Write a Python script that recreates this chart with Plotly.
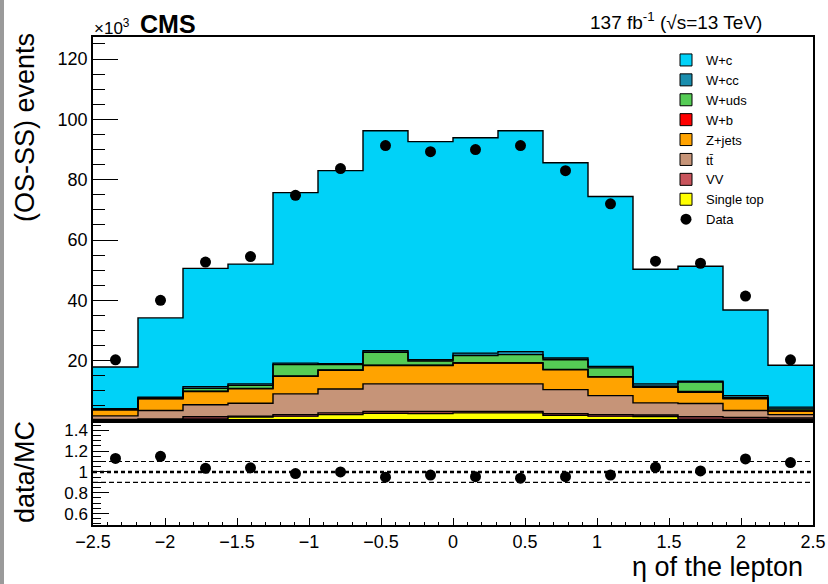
import numpy as np
import plotly.graph_objects as go

# ---------------- data ----------------
bin_low, bin_high, n_bins = -2.5, 2.5, 16

single_top = [0.3, 0.4, 0.7, 1.35, 1.6, 2.1, 2.55, 2.5, 2.7, 2.7, 1.9, 1.6, 1.5, 0.6, 0.6, 0.5]
vv         = [0.2, 0.3, 0.7, 0.25, 0.5, 0.6, 0.65, 0.7, 0.5, 0.5, 0.55, 0.5, 0.5, 0.8, 0.6, 0.5]
ttbar      = [1.2, 2.8, 4.0, 4.3, 6.9, 7.9, 9.1, 9.1, 9.1, 9.1, 7.95, 6.3, 4.0, 4.4, 2.3, 1.1]
zjets      = [2.0, 3.9, 4.4, 4.8, 5.8, 6.2, 6.1, 6.1, 6.9, 6.9, 6.6, 6.2, 5.2, 3.7, 3.9, 1.2]
w_b        = [0.05, 0.05, 0.1, 0.1, 0.1, 0.1, 0.1, 0.1, 0.1, 0.1, 0.1, 0.1, 0.1, 0.3, 0.1, 0.05]
w_uds      = [0.1, 0.15, 0.9, 1.0, 3.8, 1.8, 4.3, 1.4, 2.4, 2.7, 3.2, 2.9, 0.2, 3.1, 0.2, 0.65]
w_cc       = [0.25, 0.3, 0.6, 0.5, 0.5, 0.3, 0.5, 0.4, 0.8, 1.0, 0.6, 0.5, 0.8, 0.3, 0.7, 0.6]
w_c        = [13.8, 26.3, 39.2, 39.7, 56.5, 64.0, 72.9, 72.3, 71.4, 73.2, 64.7, 56.3, 38.0, 38.1, 28.4, 13.9]

data_vals  = [20.3, 40.0, 52.7, 54.5, 74.8, 83.7, 91.3, 89.3, 90.0, 91.3, 83.0, 72.0, 53.0, 52.3, 41.4, 20.3]
ratio_vals = [1.13, 1.15, 1.035, 1.04, 0.985, 1.0, 0.95, 0.97, 0.955, 0.94, 0.955, 0.97, 1.045, 1.01, 1.125, 1.09]
ratio_ref_lines = [0.9, 1.0, 1.1]

# stack order bottom -> top
components = [
    ("Single top", single_top, "#FFFF00"),
    ("VV", vv, "#C8545C"),
    ("tt\u0304", ttbar, "#C69478"),
    ("Z+jets", zjets, "#FFA300"),
    ("W+b", w_b, "#FF0000"),
    ("W+uds", w_uds, "#55CC55"),
    ("W+cc", w_cc, "#1A8EAE"),
    ("W+c", w_c, "#00D2F8"),
]

edges = np.linspace(bin_low, bin_high, n_bins + 1)
centers = 0.5 * (edges[:-1] + edges[1:])
width = edges[1] - edges[0]

FONT = "Liberation Sans, Arial, Helvetica, sans-serif"

fig = go.Figure()

# filled stacked histogram (no outlines)
for name, vals, col in components:
    fig.add_trace(go.Bar(x=centers, y=vals, width=width, marker=dict(color=col, line=dict(width=0)),
                         showlegend=False, hoverinfo="skip", xaxis="x", yaxis="y"))

# step outlines of each cumulative layer
cum = np.zeros(n_bins)
for name, vals, col in components:
    cum = cum + np.array(vals)
    ys = list(cum) + [cum[-1]]
    fig.add_trace(go.Scatter(x=edges, y=ys, mode="lines", line=dict(color="black", width=1.4, shape="hv"),
                             showlegend=False, hoverinfo="skip", xaxis="x", yaxis="y"))

# legend entries (W+c first)
for rank, (name, vals, col) in enumerate(reversed(components)):
    fig.add_trace(go.Bar(x=[None], y=[None], name=name, marker=dict(color=col, line=dict(color="black", width=1)),
                         legendrank=rank + 1, xaxis="x", yaxis="y"))

# data points
fig.add_trace(go.Scatter(x=centers, y=data_vals, mode="markers", name="Data",
                         marker=dict(color="black", size=11, symbol="circle"),
                         legendrank=20, xaxis="x", yaxis="y"))

# ratio points
fig.add_trace(go.Scatter(x=centers, y=ratio_vals, mode="markers", showlegend=False,
                         marker=dict(color="black", size=11, symbol="circle"),
                         xaxis="x2", yaxis="y2"))

shapes = []
for v in ratio_ref_lines:
    thick = (v == 1.0)
    shapes.append(dict(type="line", xref="x2", yref="y2", x0=bin_low, x1=bin_high, y0=v, y1=v,
                       line=dict(color="black", width=2.6 if thick else 1.1,
                                 dash="4px,3px" if thick else "5px,3px"), layer="below"))
# grey strip at left edge of canvas
shapes.append(dict(type="rect", xref="paper", yref="paper", x0=-93/720, x1=-89/720, y0=-0.125, y1=1.08,
                   fillcolor="#9a9a9a", line=dict(width=0), layer="above"))

def px(x):
    return (x - 93) / 720.0

def py(y):
    return (525 - y) / 488.0

annotations = [
    dict(text="\u00d710<sup>3</sup>", x=px(92), y=py(27), xanchor="left", yanchor="middle",
         font=dict(size=17, family=FONT, color="black")),
    dict(text="<b>CMS</b>", x=px(138), y=py(24), xanchor="left", yanchor="middle",
         font=dict(size=25, family=FONT, color="black")),
    dict(text="137 fb<sup>-1</sup> (\u221as=13 TeV)", x=px(764), y=py(21), xanchor="right", yanchor="middle",
         font=dict(size=19, family=FONT, color="black")),
    dict(text="(OS-SS) events", x=px(25), y=py(128), textangle=-90, xanchor="center", yanchor="middle",
         font=dict(size=27, family=FONT, color="black")),
    dict(text="data/MC", x=px(25), y=py(472), textangle=-90, xanchor="center", yanchor="middle",
         font=dict(size=27, family=FONT, color="black")),
    dict(text="\u03b7 of the lepton", x=px(805), y=py(567), xanchor="right", yanchor="middle",
         font=dict(size=27, family=FONT, color="black")),
]
for a in annotations:
    a.update(xref="paper", yref="paper", showarrow=False)

split = (525 - 421) / 488.0

major_up = [20, 40, 60, 80, 100, 120]
minor_up = [v for v in range(5, 130, 5) if v % 20 != 0]

fig.update_layout(
    template="none",
    width=828, height=584,
    margin=dict(l=93, r=15, t=37, b=59, autoexpand=False),
    paper_bgcolor="white", plot_bgcolor="white",
    barmode="stack", bargap=0,
    font=dict(family=FONT, color="black"),
    shapes=shapes, annotations=annotations,
    legend=dict(x=px(666), y=py(45), xanchor="left", yanchor="top", bgcolor="rgba(0,0,0,0)",
                borderwidth=0,
                font=dict(size=13, family=FONT, color="black"), traceorder="normal"),
    xaxis=dict(domain=[0, 1], range=[bin_low, bin_high], anchor="y", showticklabels=False,
               showline=True, mirror=True, linecolor="black", linewidth=1.5, ticks="",
               showgrid=False, zeroline=False, automargin=False),
    yaxis=dict(domain=[split, 1], range=[0, 127.3], anchor="x", tickvals=major_up,
               ticks="inside", ticklen=25, tickwidth=1.2, tickcolor="black",
               minor=dict(tickvals=minor_up, ticks="inside", ticklen=12, tickwidth=1.2, tickcolor="black", showgrid=False),
               showline=True, mirror=True, linecolor="black", linewidth=1.5, automargin=False,
               showgrid=False, zeroline=False, tickfont=dict(size=18, family=FONT, color="black")),
    xaxis2=dict(domain=[0, 1], range=[bin_low, bin_high], anchor="y2", tick0=-2.5, dtick=0.5,
                ticks="inside", ticklen=7, tickwidth=1.2, tickcolor="black",
                minor=dict(dtick=0.1, tick0=-2.5, ticks="inside", ticklen=3.5, tickwidth=1, tickcolor="black", showgrid=False),
                showline=True, mirror=True, linecolor="black", linewidth=1.5, automargin=False,
                showgrid=False, zeroline=False, tickfont=dict(size=18, family=FONT, color="black")),
    yaxis2=dict(domain=[0, split], range=[0.49, 1.49], anchor="x2", tickvals=[0.6, 0.8, 1.0, 1.2, 1.4],
                ticktext=["0.6", "0.8", "1", "1.2", "1.4"],
                ticks="inside", ticklen=16, tickwidth=1.2, tickcolor="black",
                minor=dict(dtick=0.05, tick0=0.5, ticks="inside", ticklen=8, tickwidth=1, tickcolor="black", showgrid=False),
                showline=True, mirror=True, linecolor="black", linewidth=1.5, automargin=False,
                showgrid=False, zeroline=False, tickfont=dict(size=17, family=FONT, color="black")),
)

fig.write_html("out.html", config={"displayModeBar": False},
               post_script="document.body.style.margin='0';document.body.style.padding='0';")
